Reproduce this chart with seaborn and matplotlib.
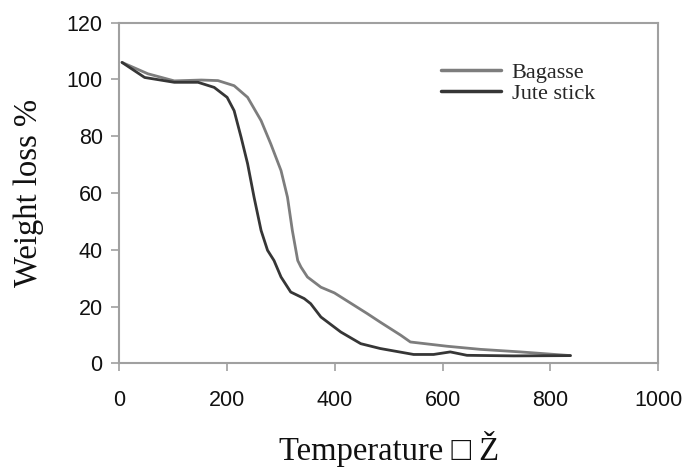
import matplotlib
matplotlib.use("Agg")
import matplotlib.pyplot as plt
import seaborn as sns
import pandas as pd

# Data
bagasse_temp = [5, 53, 102, 152, 183, 213, 238, 263, 281, 300, 312, 321, 331, 337,
                349, 374, 399, 460, 484, 522, 540, 608, 670, 744, 837]
bagasse_wt = [106, 102, 99.5, 99.8, 99.6, 97.8, 93.7, 85.5, 77.3, 67.9, 58.5, 46.8,
              36.2, 33.9, 30.4, 26.8, 24.8, 17.5, 14.5, 9.9, 7.5, 6.0, 4.9, 4.0, 2.7]

jute_temp = [5, 47, 102, 146, 176, 200, 213, 226, 238, 250, 263, 275, 287, 300, 318,
             343, 355, 374, 411, 448, 484, 546, 583, 614, 645, 732, 837]
jute_wt = [106, 100.7, 99, 99, 97.2, 93.7, 89, 79.6, 70.3, 58.5, 46.8, 39.8, 36.2,
           30.4, 25.1, 22.8, 21, 16.3, 11, 6.9, 5.2, 3.1, 3.1, 4.0, 2.8, 2.6, 2.7]

series_names = ["Bagasse", "Jute stick"]
x_ticks = [0, 200, 400, 600, 800, 1000]
y_ticks = [0, 20, 40, 60, 80, 100, 120]
x_label = "Temperature \u25a1 \u017d"
y_label = "Weight loss %"

df_b = pd.DataFrame({"Temperature": bagasse_temp, "Weight": bagasse_wt})
df_j = pd.DataFrame({"Temperature": jute_temp, "Weight": jute_wt})

sns.set_style("white")
plt.rcParams["font.family"] = ["Liberation Sans", "DejaVu Sans"]

fig = plt.figure(figsize=(6.87, 4.73), dpi=100)
ax = fig.add_axes([0.1737, 0.232, 0.7845, 0.72])

sns.lineplot(data=df_b, x="Temperature", y="Weight", ax=ax, color="#7d7d7d",
             linewidth=2.0, label=series_names[0], sort=False)
sns.lineplot(data=df_j, x="Temperature", y="Weight", ax=ax, color="#363636",
             linewidth=2.0, label=series_names[1], sort=False)

ax.set_xlim(0, 1000)
ax.set_ylim(0, 120)
ax.set_xticks(x_ticks)
ax.set_yticks(y_ticks)
ax.set_xticklabels([str(t) for t in x_ticks])
ax.set_yticklabels([str(t) for t in y_ticks])

for s in ax.spines.values():
    s.set_visible(True)
    s.set_color("#a0a0a0")
    s.set_linewidth(1.5)

ax.tick_params(axis="both", which="major", bottom=True, left=True, direction="out",
               length=6, width=1.2, color="#a0a0a0", labelsize=15.5, labelcolor="#111111")
ax.tick_params(axis="x", pad=13)
ax.tick_params(axis="y", pad=6)

serif = ["Liberation Serif", "DejaVu Sans"]
ax.set_xlabel(x_label, fontsize=23.5, family=serif, labelpad=15, color="#111111")
ax.set_ylabel(y_label, fontsize=23.5, family=serif, labelpad=16, color="#111111")

leg = ax.legend(loc="upper left", bbox_to_anchor=(0.596, 0.883), frameon=False,
                prop={"family": "Liberation Serif", "size": 16}, handlelength=2.7,
                handletextpad=0.5, labelspacing=0.0, borderpad=0, borderaxespad=0)
for line in leg.get_lines():
    line.set_linewidth(2.5)

fig.savefig("out.png", dpi=100)
